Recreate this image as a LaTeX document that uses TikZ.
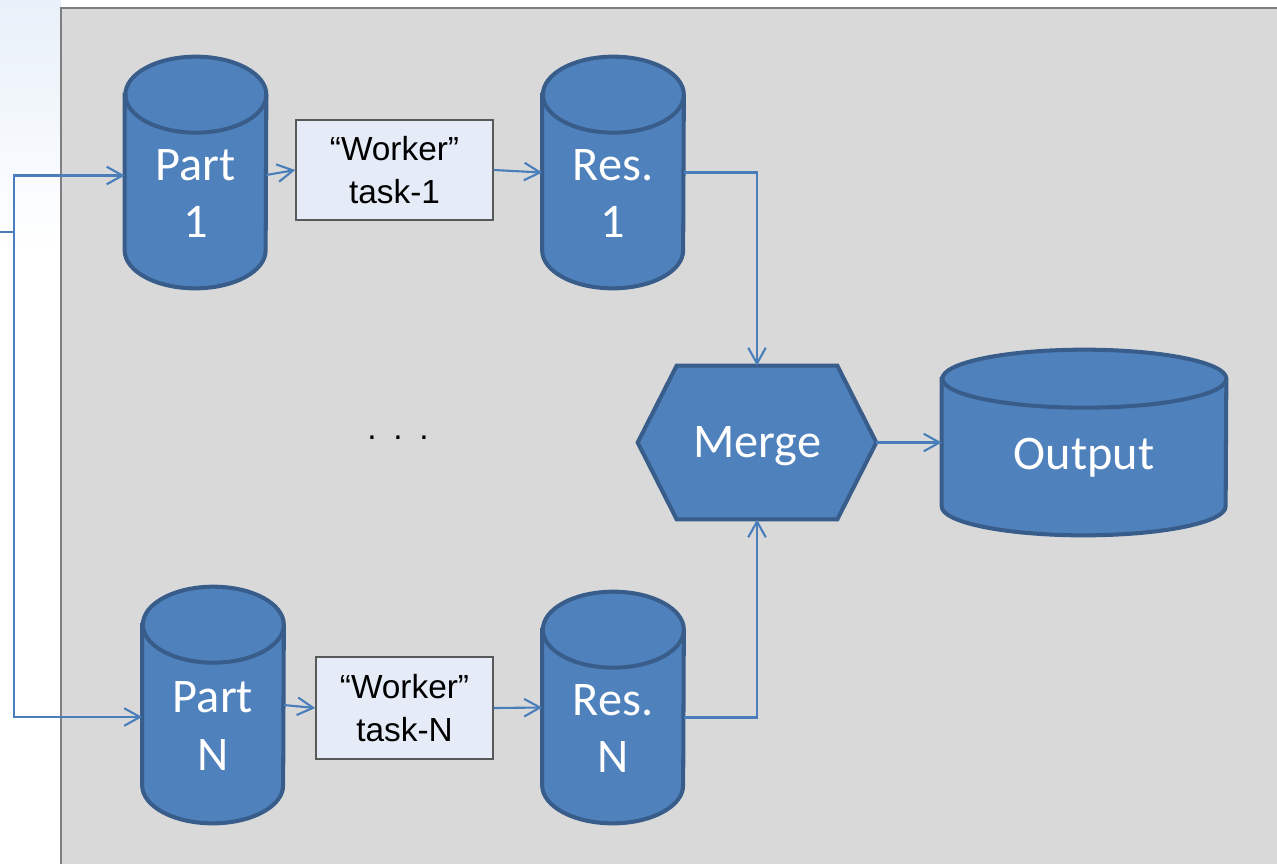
\documentclass[tikz,border=0pt]{standalone}
\usepackage{fontspec}
\usepackage{tikz}
\usetikzlibrary{arrows.meta,backgrounds}
\newfontfamily\calfont{Carlito}
\newfontfamily\arialfont{Liberation Sans}
\definecolor{cylblue}{HTML}{4F81BD}
\definecolor{cyledge}{HTML}{385D8A}
\definecolor{flowblue}{HTML}{4A7EBB}
\definecolor{panelgray}{HTML}{D9D9D9}
\definecolor{paneledge}{HTML}{7F7F7F}
\definecolor{taskfill}{HTML}{E6ECF7}
\definecolor{taskedge}{HTML}{595959}
\def\rx{1.41cm}
\def\ry{0.76cm}

\begin{document}
\begin{tikzpicture}[x=0.02cm, y=-0.02cm,
  celltext/.style = {text=white, align=center,
    font=\calfont\fontsize{27.5}{32.5}\selectfont},
  store/.style = {minimum width=2.82cm, minimum height=4.62cm, inner sep=0pt,
    label={[celltext, yshift=-0.42cm]center:{#1}}},
  task/.style = {draw=taskedge, fill=taskfill, line width=0.8pt, align=center,
    font=\arialfont\fontsize{19}{24}\selectfont, inner sep=0pt},
  body/.style = {draw=cyledge, fill=cylblue, line width=2.3pt},
  flow/.style = {draw=flowblue, line width=1.2pt},
  tip/.style = {flow, -{Straight Barb[length=9pt, width=10pt]}}]
  \useasboundingbox (0,0) rectangle (1277,863);

  % data stores
  \node[store={Part\\1}] (p1) at (195.5,172.5) {};
  \node[store={Res.\\1}] (r1) at (613,172.5) {};
  \node[store={Part\\N}, minimum height=4.72cm] (pN) at (213,705) {};
  \node[store={Res.\\N}] (rN) at (613,707.5) {};

  % workers
  \node[task, minimum width=3.94cm, minimum height=2cm] (wk1) at (394.5,170)
    {“Worker”\\task-1};
  \node[task, minimum width=3.54cm, minimum height=2.04cm] (wkN) at (404.5,708)
    {“Worker”\\task-N};

  \node[font=\arialfont\fontsize{19}{24}\selectfont] (dots) at (398,438)
    {.\hspace{9.5pt}.\hspace{9.5pt}.};

  \node[minimum width=4.76cm, minimum height=3.06cm, inner sep=0pt,
    label={[celltext, yshift=-0.08cm]center:Merge}] (mg) at (757,442.5) {};
  \node[minimum width=5.68cm, minimum height=3.7cm, inner sep=0pt,
    label={[celltext, yshift=-0.3cm]center:Output}] (out) at (1084,442.5) {};

  % shapes behind the text
  \begin{scope}[on background layer]
    \fill[top color={rgb,255:red,232;green,240;blue,249}, bottom color=white]
      (0,0) rectangle (61,250);
    \filldraw[fill=panelgray, draw=paneledge, line width=1.1pt]
      (61,8) rectangle (1300,900);
    \foreach \n in {p1,r1,pN,rN} {
      \filldraw[body] ([yshift=-\ry]\n.north west) -- ([yshift=\ry]\n.south west)
        arc[start angle=180, end angle=360, x radius=\rx, y radius=\ry]
        -- ([yshift=-\ry]\n.north east)
        arc[start angle=0, end angle=180, x radius=\rx, y radius=\ry] -- cycle;
      \draw[body, fill=none] ([yshift=-\ry]\n.north east)
        arc[start angle=0, end angle=-180, x radius=\rx, y radius=\ry];
    }
    \filldraw[body] ([yshift=-0.58cm]out.north west) -- ([yshift=0.58cm]out.south west)
      arc[start angle=180, end angle=360, x radius=2.84cm, y radius=0.58cm]
      -- ([yshift=-0.58cm]out.north east)
      arc[start angle=0, end angle=180, x radius=2.84cm, y radius=0.58cm] -- cycle;
    \draw[body, fill=none] ([yshift=-0.58cm]out.north east)
      arc[start angle=0, end angle=-180, x radius=2.84cm, y radius=0.58cm];
    \filldraw[body] (mg.west) -- ([xshift=0.78cm]mg.north west)
      -- ([xshift=-0.78cm]mg.north east) -- (mg.east)
      -- ([xshift=-0.78cm]mg.south east) -- ([xshift=0.78cm]mg.south west) -- cycle;
  \end{scope}

  % connectors
  \coordinate (in) at (0,232);
  \coordinate (split) at (14,232);
  \draw[flow] (in) -- (split);
  \draw[tip] (split) |- ([yshift=-0.06cm]p1.west);
  \draw[tip] (split) |- ([yshift=-0.24cm]pN.west);
  \draw[tip] ([yshift=-0.05cm]p1.east) -- (wk1.west);
  \draw[tip] (wk1.east) -- (r1.west);
  \draw[tip] (pN.east) -- (wkN.west);
  \draw[tip] (wkN.east) -- (rN.west);
  \draw[tip] (r1.east) -| (mg.north);
  \draw[tip] ([yshift=-0.2cm]rN.east) -| (mg.south);
  \draw[tip] (mg.east) -- (out.west);
\end{tikzpicture}
\end{document}
